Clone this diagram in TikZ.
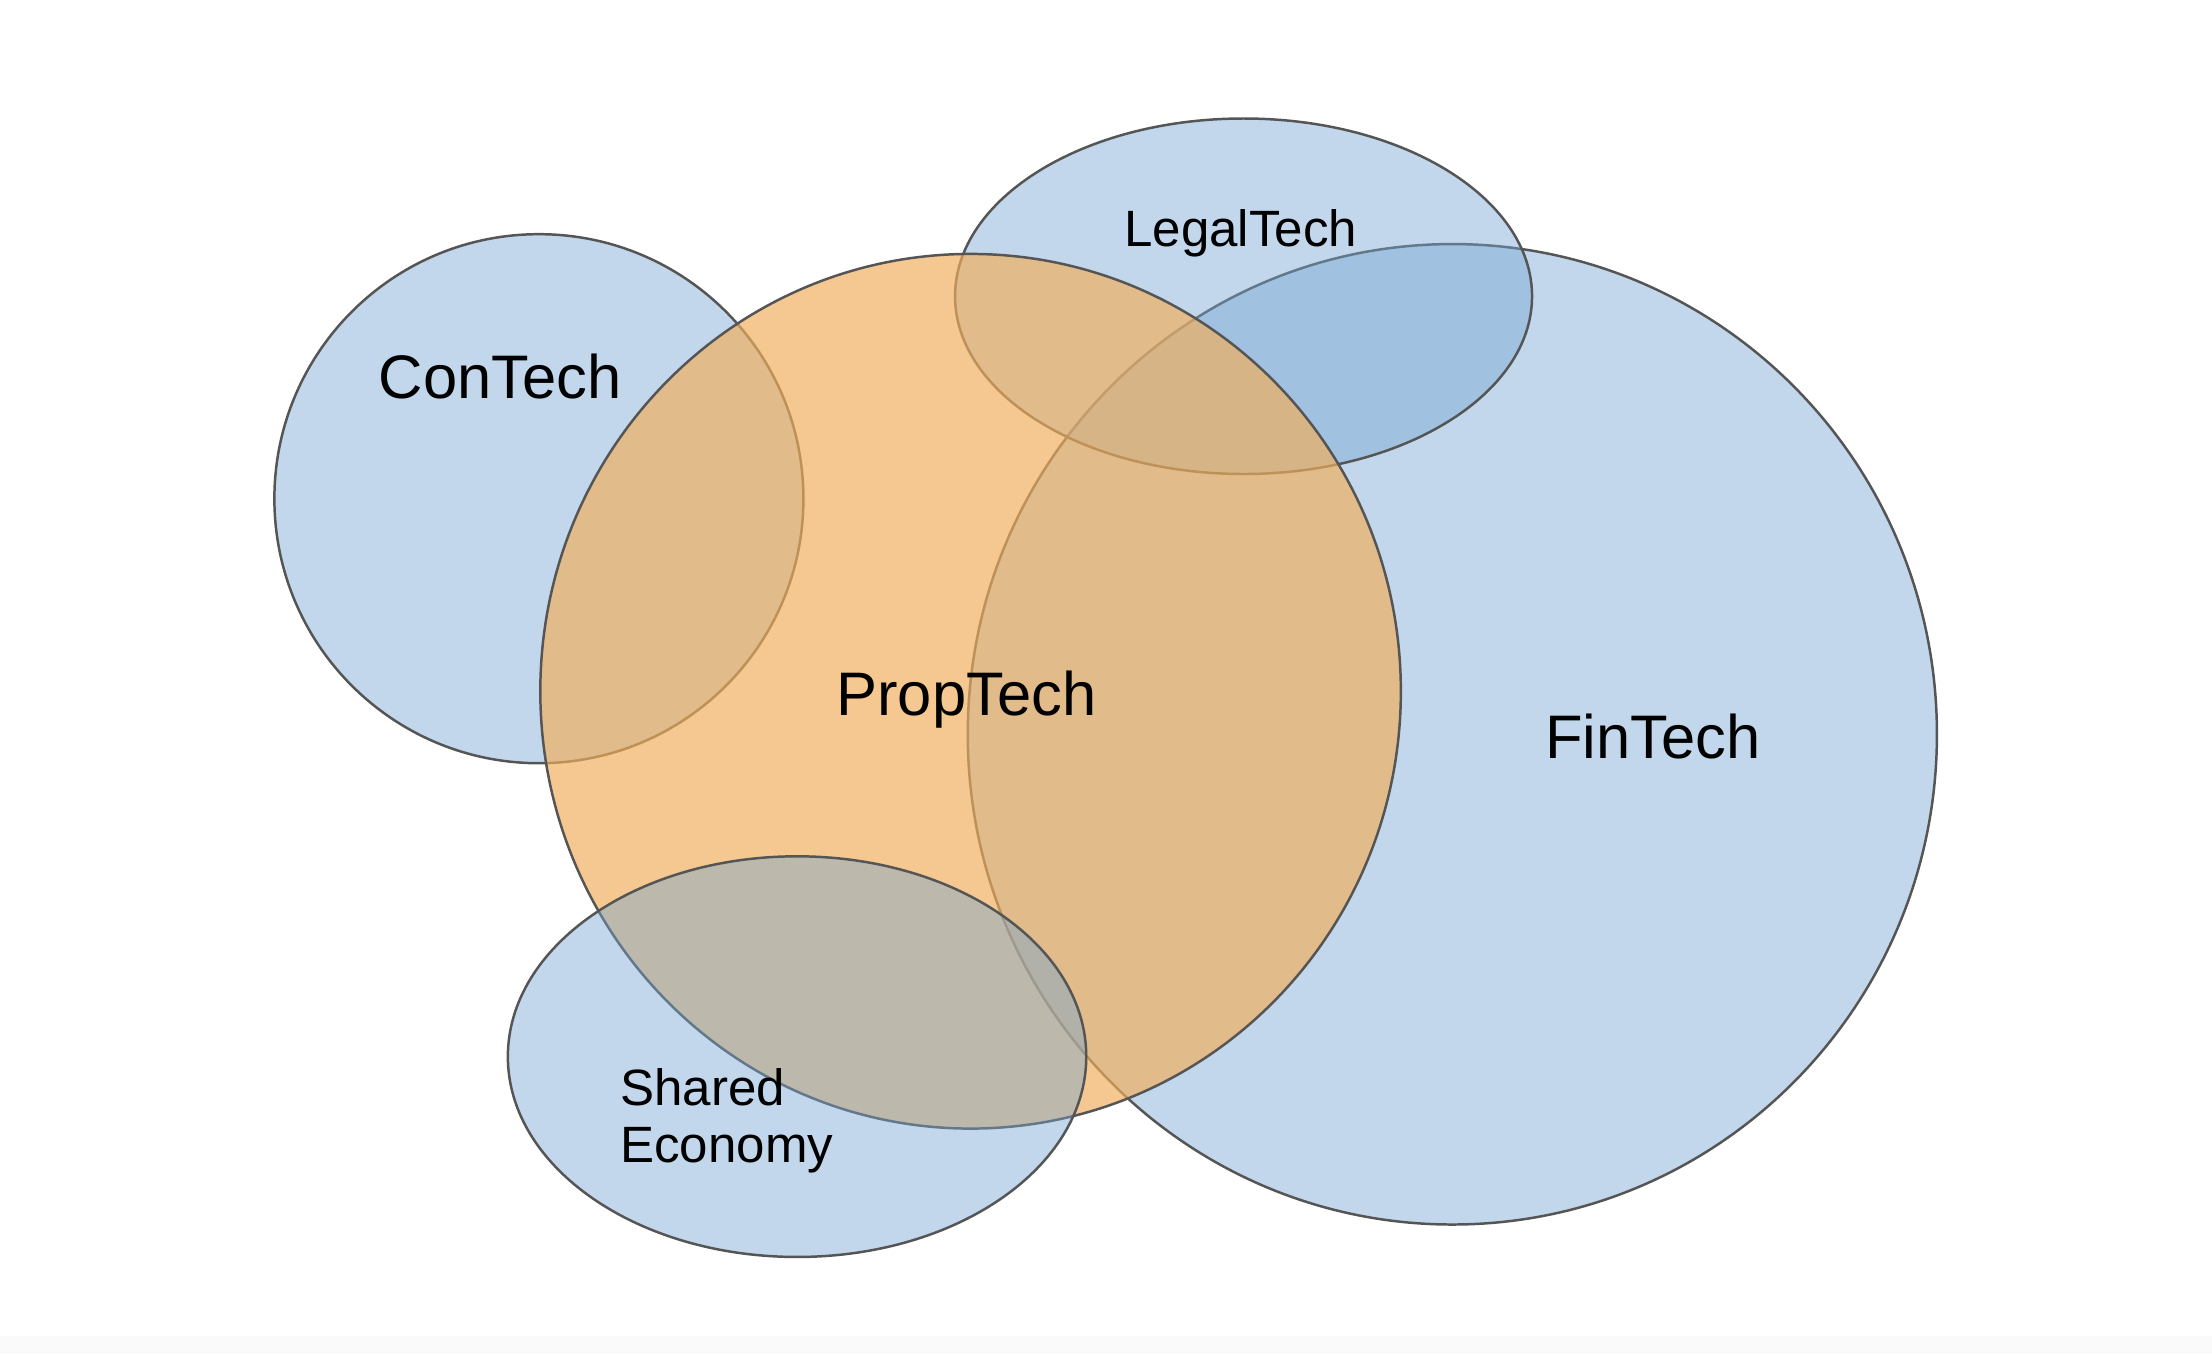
\documentclass[tikz,border=0pt]{standalone}
\usepackage{fontspec}
\setmainfont{Liberation Sans}
\definecolor{setblue}{RGB}{117,165,210}
\definecolor{proporange}{RGB}{240,174,92}
\definecolor{rimgray}{RGB}{85,85,85}
\definecolor{stripgray}{RGB}{250,250,250}

\begin{document}
\begin{tikzpicture}[
    setfill/.style={fill=setblue, fill opacity=0.44, draw=rimgray, line width=0.5pt},
    propfill/.style={fill=proporange, fill opacity=0.68, draw=rimgray, line width=0.5pt},
    biglabel/.style={font=\fontsize{12.4}{14}\selectfont, anchor=base, inner sep=0pt},
    smalllabel/.style={font=\fontsize{10.3}{11.5}\selectfont, anchor=base, inner sep=0pt}]
    \useasboundingbox (0,0) rectangle (15.68,9.60);
    \fill[white] (0,0) rectangle (15.68,9.60);
    \fill[stripgray] (0,0) rectangle (15.68,0.13);

    % the sets, bottom to top
    \draw[setfill] (10.295,4.395) ellipse (3.435 and 3.475);
    \draw[setfill] (3.82,6.065) circle (1.875);
    \draw[setfill] (8.815,7.50) ellipse (2.045 and 1.26);
    \draw[propfill] (6.88,4.70) ellipse (3.05 and 3.10);
    \draw[setfill] (5.65,2.11) ellipse (2.05 and 1.42);

    \node[biglabel] (contech) at (3.545,6.774) {ConTech};
    \node[biglabel] (proptech) at (6.85,4.53) {PropTech};
    \node[biglabel] (fintech) at (11.715,4.22) {FinTech};
    \node[smalllabel] (legaltech) at (8.795,7.85) {LegalTech};
    % base of a two-line node is the last line
    \node[smalllabel, anchor=base west, align=left] (shared) at (4.39,1.36) {Shared\\Economy};
\end{tikzpicture}
\end{document}
